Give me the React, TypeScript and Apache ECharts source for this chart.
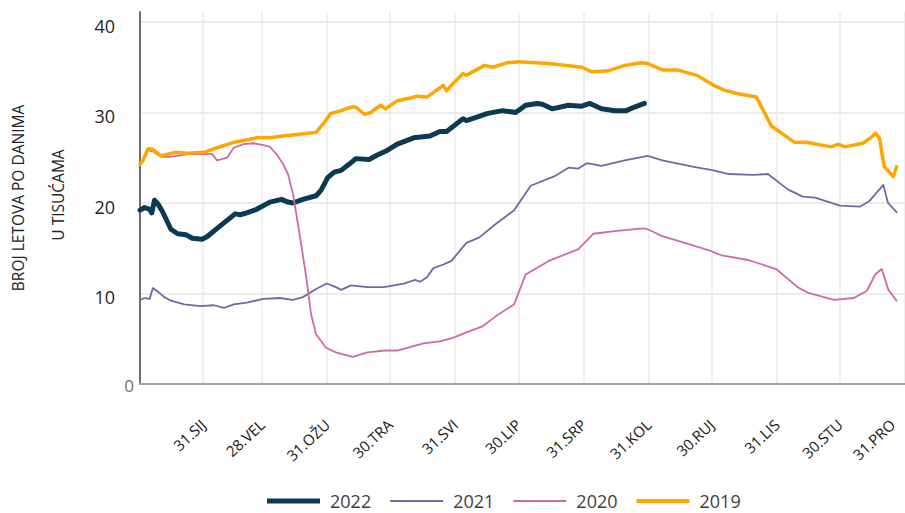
import React, { useEffect, useRef } from "react";
import * as echarts from "echarts";

// Month-end tick days and labels
const tickDays = [31, 59, 90, 120, 151, 181, 212, 243, 273, 304, 334, 365];
const labelDays = [31, 59, 90, 120, 151, 181, 212, 243, 273, 304, 334, 359];
const tickLabels = ["31.SIJ", "28.VEL", "31.OŽU", "30.TRA", "31.SVI", "30.LIP", "31.SRP", "31.KOL", "30.RUJ", "31.LIS", "30.STU", "31.PRO"];
const yTicks = [0, 10, 20, 30, 40];

// 2022
const days2022 = [1, 3.2, 5.6, 6.6, 7.9, 9.5, 11.8, 15.7, 18.9, 22.8, 25.9, 30.6, 33, 39.3, 46.3, 48.7, 51.8, 56.5, 62.8, 68.3, 71.4, 73.8, 78.5, 84.8, 87.1, 90.3, 93.4, 96.7, 100.6, 103.7, 110, 113.9, 118.6, 123.4, 131.2, 139, 143.7, 146.9, 150.8, 154.7, 156.3, 160.2, 166.5, 173.6, 179.8, 184.5, 190, 192.4, 197.1, 204.9, 211.2, 215.1, 220.6, 226.9, 232.4, 236.3, 241];
const vals2022 = [19.2, 19.5, 19.3, 18.9, 20.3, 19.9, 19.0, 17.1, 16.6, 16.5, 16.1, 16.0, 16.3, 17.5, 18.8, 18.7, 18.9, 19.3, 20.1, 20.4, 20.1, 20.0, 20.4, 20.8, 21.4, 22.8, 23.4, 23.6, 24.3, 24.9, 24.8, 25.3, 25.8, 26.5, 27.2, 27.4, 27.9, 27.9, 28.6, 29.3, 29.1, 29.4, 29.9, 30.2, 30.0, 30.8, 31.0, 30.9, 30.4, 30.8, 30.7, 31.0, 30.4, 30.2, 30.2, 30.6, 31.0];

// 2021
const days2021 = [1, 3.2, 5.6, 7.1, 9.5, 12.6, 15.7, 22, 29.8, 36.2, 40.9, 45.6, 51.8, 59.7, 67.5, 73.8, 78.5, 84.8, 89.8, 94.2, 96.7, 101.4, 109.2, 117.1, 126.5, 131.9, 134.3, 137.5, 140.6, 145.3, 149.2, 156.3, 162.5, 170.4, 179, 186.9, 198.6, 204.9, 209.6, 213.6, 220.6, 231.6, 242.6, 249.6, 264.5, 273.9, 281, 292.8, 299.8, 309.2, 316.3, 322.2, 334, 343.7, 348, 354.7, 356.9, 361];
const vals2021 = [9.3, 9.5, 9.4, 10.6, 10.2, 9.6, 9.2, 8.8, 8.6, 8.7, 8.4, 8.8, 9.0, 9.4, 9.5, 9.3, 9.6, 10.5, 11.1, 10.7, 10.4, 10.9, 10.7, 10.7, 11.1, 11.5, 11.3, 11.8, 12.8, 13.2, 13.6, 15.6, 16.2, 17.7, 19.2, 21.9, 23.0, 23.9, 23.8, 24.4, 24.1, 24.7, 25.2, 24.7, 24.0, 23.6, 23.2, 23.1, 23.2, 21.5, 20.7, 20.6, 19.7, 19.6, 20.2, 22.0, 20.0, 19.0];

// 2020
const days2020 = [1, 2.4, 4.8, 7.1, 11, 15, 18.9, 23.6, 31.4, 35.4, 37.7, 42.4, 45.6, 50.3, 55, 59.7, 62.8, 65.9, 69.1, 71.4, 73.8, 76.9, 80.1, 82.4, 84.8, 89.5, 94.2, 102.2, 109.2, 117.8, 123.4, 128.1, 135.9, 143.7, 149.9, 156.3, 164.2, 170.4, 179, 184.5, 195.5, 209.6, 216.7, 226.9, 240.2, 242.6, 248.8, 261.4, 272.4, 277.8, 290.4, 303.7, 313.9, 318.6, 331.2, 340.6, 346.9, 350.8, 353.9, 357.1, 361];
const vals2020 = [24.2, 24.6, 25.8, 25.7, 25.1, 25.1, 25.2, 25.4, 25.4, 25.4, 24.7, 25.0, 26.1, 26.5, 26.6, 26.4, 26.2, 25.4, 24.3, 23.2, 21.0, 16.6, 11.8, 7.7, 5.5, 4.0, 3.5, 3.0, 3.5, 3.7, 3.7, 4.0, 4.5, 4.7, 5.1, 5.7, 6.4, 7.5, 8.8, 12.1, 13.6, 14.9, 16.6, 16.9, 17.2, 17.1, 16.4, 15.5, 14.7, 14.2, 13.7, 12.7, 10.7, 10.1, 9.3, 9.5, 10.3, 12.1, 12.7, 10.4, 9.2];

// 2019
const days2019 = [1, 2.4, 4.8, 7.1, 11, 14.2, 17.9, 23.6, 31.4, 37.7, 45.6, 50.3, 56.5, 62.8, 69.1, 76.9, 84.8, 88.7, 91.8, 96.7, 101.4, 103.7, 107.7, 110.8, 115.5, 117.8, 123.4, 129.6, 132.8, 137.5, 145.3, 146.9, 150.8, 154.7, 156.3, 164.9, 168.9, 175.9, 181.4, 195.5, 211.2, 215.9, 223.7, 231.6, 239.4, 242.6, 249.6, 256.6, 266, 273.9, 278.6, 284.9, 294.3, 301.4, 306.9, 312.4, 317.9, 329.9, 333.2, 336.3, 345, 349.2, 351, 352.8, 355.1, 357.2, 359.4, 361];
const vals2019 = [24.3, 24.7, 26.0, 25.9, 25.2, 25.4, 25.6, 25.5, 25.6, 26.1, 26.7, 26.9, 27.2, 27.2, 27.4, 27.6, 27.8, 28.9, 29.9, 30.2, 30.6, 30.6, 29.8, 30.0, 30.8, 30.4, 31.3, 31.6, 31.8, 31.7, 33.0, 32.4, 33.4, 34.3, 34.1, 35.2, 35.0, 35.5, 35.6, 35.4, 35.0, 34.5, 34.6, 35.2, 35.5, 35.4, 34.7, 34.7, 34.1, 33.0, 32.5, 32.1, 31.7, 28.5, 27.6, 26.7, 26.7, 26.2, 26.5, 26.2, 26.6, 27.3, 27.7, 27.2, 24.0, 23.5, 22.9, 24.0];

const seriesNames = ["2022", "2021", "2020", "2019"];
const seriesColors = ["#0b3b52", "#7567a3", "#cf6aa9", "#ffa600"];
const seriesWidths = [5, 1.8, 1.8, 3.5];
const legendWidths = [5, 2, 2, 4];

const FONT = "'Open Sans', 'Noto Sans', sans-serif";

export default function App() {
  const ref = useRef<HTMLDivElement>(null);

  useEffect(() => {
    if (!ref.current) return;
    const chart = echarts.init(ref.current, null, { renderer: "svg" });
    const allDays = [days2022, days2021, days2020, days2019];
    const allVals = [vals2022, vals2021, vals2020, vals2019];

    const labelFor = (v: number) => {
      const i = labelDays.indexOf(v);
      return i >= 0 ? tickLabels[i] : "";
    };

    chart.setOption({
      animation: false,
      backgroundColor: "#ffffff",
      textStyle: { fontFamily: FONT },
      grid: { left: 140, right: -8.5, top: 12, bottom: 129, containLabel: false },
      xAxis: {
        type: "value",
        min: 1,
        max: 365,
        axisLine: { show: true, lineStyle: { color: "#a3a3a3", width: 2 } },
        axisTick: { show: false, customValues: tickDays },
        splitLine: { show: true, lineStyle: { color: "#ebebeb", width: 1.5 } },
        axisLabel: {
          customValues: labelDays,
          formatter: (v: number) => labelFor(v),
          rotate: 43,
          margin: 38,
          fontSize: 15,
          color: "#1a1a1a",
          fontFamily: FONT,
        },
      },
      yAxis: {
        type: "value",
        min: 0,
        max: 41.1,
        interval: 10,
        axisLine: { show: true, lineStyle: { color: "#6e6e6e", width: 2 } },
        axisTick: { show: false },
        splitLine: { show: true, showMaxLine: false, lineStyle: { color: "#e6e6e6", width: 1.5 } },
        axisLabel: {
          showMaxLabel: false,
          margin: 6,
          formatter: (v: number) => (yTicks.indexOf(v) < 0 ? "" : v === 0 ? "{z|0}" : "{n|" + v + "}"),
          rich: {
            n: { fontSize: 18, color: "#1f1f1f", padding: [8, 19, 0, 0], fontFamily: FONT },
            z: { fontSize: 17, color: "#7a6d66", padding: [2, 0, 0, 0], fontFamily: FONT },
          },
        },
      },
      legend: {
        left: 262,
        top: 487,
        padding: 5,
        itemWidth: 53,
        itemHeight: 12,
        itemGap: 19,
        textStyle: { fontSize: 18, lineHeight: 18, color: "#3f3f3f", fontFamily: FONT, padding: [0, 0, 0, 5] },
        data: seriesNames.map((n, i) => ({
          name: n,
          icon: "path://M0,0h53v" + legendWidths[i] + "h-53z",
          itemStyle: { color: seriesColors[i] },
        })),
      },
      graphic: [
        {
          type: "text",
          x: 18,
          y: 198,
          rotation: Math.PI / 2,
          style: { text: "BROJ LETOVA PO DANIMA", fontSize: 15.5, fill: "#222", fontFamily: FONT, align: "center", verticalAlign: "middle" },
        },
        {
          type: "text",
          x: 58,
          y: 195,
          rotation: Math.PI / 2,
          style: { text: "U TISUĆAMA", fontSize: 15.5, fill: "#222", fontFamily: FONT, align: "center", verticalAlign: "middle" },
        },
      ],
      series: seriesNames.map((n, i) => ({
        name: n,
        type: "line",
        showSymbol: false,
        symbol: "none",
        smooth: false,
        clip: true,
        color: seriesColors[i],
        lineStyle: { color: seriesColors[i], width: seriesWidths[i], join: "round", cap: "round" },
        data: allDays[i].map((d, j) => [d, allVals[i][j]]),
      })),
    });
    return () => chart.dispose();
  }, []);

  return <div ref={ref} style={{ position: "fixed", left: 0, top: 0, width: 905, height: 513 }} />;
}
